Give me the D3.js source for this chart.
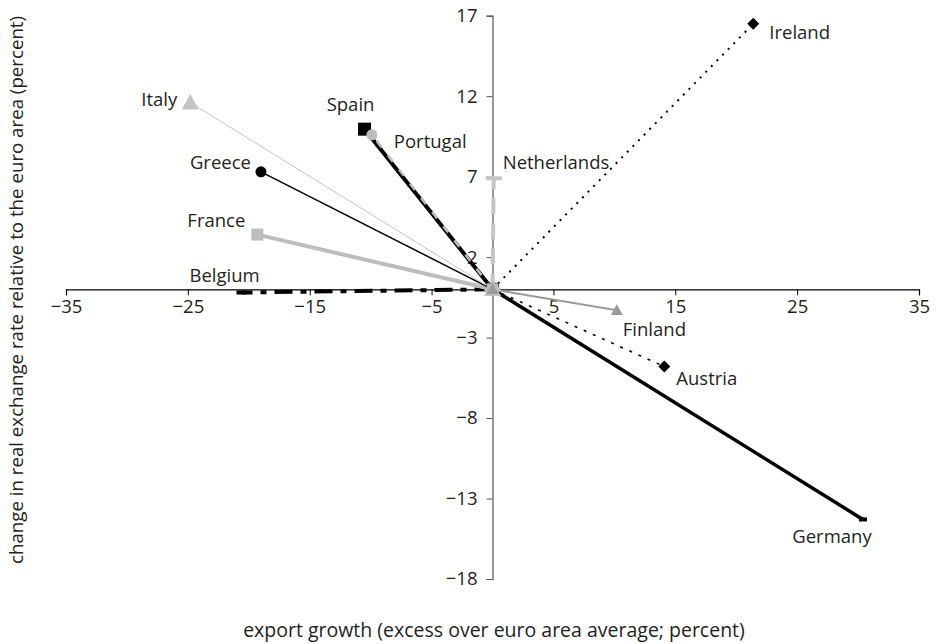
<!DOCTYPE html>
<html>
<head>
<meta charset="utf-8">
<script src="https://cdn.jsdelivr.net/npm/d3@7"></script>
<style>
  body { margin: 0; background: #fff; }
  svg { display: block; font-family: "Open Sans", "Noto Sans", sans-serif; }
</style>
</head>
<body>
<svg id="chart" width="937" height="644"></svg>
<script>
// ---- data ----
const countries   = ["Belgium", "France", "Greece", "Italy", "Spain", "Portugal", "Netherlands", "Finland", "Austria", "Germany", "Ireland"];
const exportGrowth = [-20.6, -19.3, -19.0, -24.8, -10.5, -9.9, 0.1, 10.2, 14.1, 30.4, 21.4];
const rerChange    = [-0.2, 3.4, 7.3, 11.6, 9.95, 9.6, 6.9, -1.3, -4.8, -14.3, 16.5];
const xTicks = [-35, -25, -15, -5, 5, 15, 25, 35];
const yTicks = [-18, -13, -8, -3, 2, 7, 12, 17];

// ---- styles (presentation only) ----
const styles = {
  Belgium:     {stroke: "#000",    width: 4,   dash: "18,8,6,8", marker: "dash",     mfill: "#000",    msize: 10},
  France:      {stroke: "#bdbdbd", width: 4,   dash: null,       marker: "square",   mfill: "#bdbdbd", msize: 12},
  Greece:      {stroke: "#000",    width: 1.5, dash: null,       marker: "circle",   mfill: "#000",    msize: 11},
  Italy:       {stroke: "#c4c4c4", width: 1,   dash: null,       marker: "triangle", mfill: "#c4c4c4", msize: 17},
  Spain:       {stroke: "#000",    width: 4,   dash: null,       marker: "square",   mfill: "#000",    msize: 13},
  Portugal:    {stroke: "#bdbdbd", width: 2.5, dash: "8,10",     marker: "circle",   mfill: "#bdbdbd", msize: 11},
  Netherlands: {stroke: "#c4c4c4", width: 4,   dash: "16,9",     marker: "hbar",     mfill: "#c4c4c4", msize: 16},
  Finland:     {stroke: "#9a9a9a", width: 2,   dash: null,       marker: "triangle", mfill: "#9a9a9a", msize: 12},
  Austria:     {stroke: "#000",    width: 1.6, dash: "3,7",      marker: "diamond",  mfill: "#000",    msize: 12},
  Germany:     {stroke: "#000",    width: 3.5, dash: null,       marker: "dash",     mfill: "#000",    msize: 8},
  Ireland:     {stroke: "#000",    width: 2,   dash: "2,6",      marker: "diamond",  mfill: "#000",    msize: 12}
};
const labelPos = {
  Belgium:     {dx: -52, dy: -11, anchor: "start"},
  France:      {dx: -12, dy: -8,  anchor: "end"},
  Greece:      {dx: -10, dy: -3,  anchor: "end"},
  Italy:       {dx: -13, dy: 3,   anchor: "end"},
  Spain:       {dx: -14, dy: -18, anchor: "middle"},
  Portugal:    {dx: 22,  dy: 13,  anchor: "start"},
  Netherlands: {dx: 9,   dy: -9,  anchor: "start"},
  Finland:     {dx: 6,   dy: 26,  anchor: "start"},
  Austria:     {dx: 12,  dy: 18,  anchor: "start"},
  Germany:     {dx: -31, dy: 24,  anchor: "middle"},
  Ireland:     {dx: 16,  dy: 15,  anchor: "start"}
};
const originOrder = ["Ireland", "Germany", "Austria", "Belgium", "Greece", "Spain", "Netherlands", "Portugal", "Italy", "France", "Finland"];

const svg = d3.select("#chart");
const x = d3.scaleLinear().domain([-35, 35]).range([66, 919]);
const y = d3.scaleLinear().domain([-18, 17]).range([579, 15.7]);
const fmt = v => (v < 0 ? "\u2212" + Math.abs(v) : String(v));
const textColor = "#231f20";
const fs = 18.5;

// axes
const xAxis = svg.append("g").attr("transform", `translate(0,${y(0)})`)
  .call(d3.axisBottom(x).tickValues(xTicks).tickFormat(fmt).tickSizeOuter(0).tickSize(6).tickPadding(5));
xAxis.select(".domain").attr("stroke", "#000").attr("stroke-width", 1.2);
xAxis.selectAll(".tick line").attr("stroke", "#000");
xAxis.selectAll(".tick text").attr("font-size", fs).attr("fill", textColor).attr("font-family", "Open Sans, sans-serif");

const yAxis = svg.append("g").attr("transform", `translate(${x(0)},0)`)
  .call(d3.axisLeft(y).tickValues(yTicks).tickFormat(fmt).tickSizeOuter(0).tickSize(6).tickPadding(9));
yAxis.select(".domain").attr("stroke", "#555").attr("stroke-width", 1.2);
yAxis.selectAll(".tick line").attr("stroke", "#555");
yAxis.selectAll(".tick text").attr("font-size", fs).attr("fill", textColor).attr("font-family", "Open Sans, sans-serif");

// series: each country from origin to its point
const series = countries.map((c, i) => ({
  name: c,
  pts: [[0, 0], [exportGrowth[i], rerChange[i]]]
}));
const line = d3.line().x(d => x(d[0])).y(d => y(d[1]));

const gSeries = svg.append("g");
series.forEach(s => {
  const st = styles[s.name];
  gSeries.append("path")
    .attr("d", line(s.pts))
    .attr("fill", "none")
    .attr("stroke", st.stroke)
    .attr("stroke-width", st.width)
    .attr("stroke-dasharray", st.dash);
});

function drawMarker(g, type, cx, cy, size, fill) {
  const h = size / 2;
  if (type === "square") {
    g.append("rect").attr("x", cx - h).attr("y", cy - h).attr("width", size).attr("height", size).attr("fill", fill);
  } else if (type === "circle") {
    g.append("circle").attr("cx", cx).attr("cy", cy).attr("r", h).attr("fill", fill);
  } else if (type === "triangle") {
    g.append("path").attr("d", `M${cx},${cy - h}L${cx + h},${cy + h * 0.8}L${cx - h},${cy + h * 0.8}Z`).attr("fill", fill);
  } else if (type === "diamond") {
    g.append("path").attr("d", `M${cx},${cy - h}L${cx + h},${cy}L${cx},${cy + h}L${cx - h},${cy}Z`).attr("fill", fill);
  } else if (type === "hbar" || type === "dash") {
    g.append("rect").attr("x", cx - h).attr("y", cy - 2).attr("width", size).attr("height", 4).attr("fill", fill);
  }
}

const gMarkers = svg.append("g");
// origin markers (gray ones end up on top)
originOrder.forEach(name => {
  const st = styles[name];
  drawMarker(gMarkers, st.marker, x(0), y(0), st.msize, st.mfill);
});
// end markers
series.forEach(s => {
  const st = styles[s.name];
  const p = s.pts[1];
  drawMarker(gMarkers, st.marker, x(p[0]), y(p[1]), st.msize, st.mfill);
});

// labels
const gLabels = svg.append("g");
series.forEach(s => {
  const lp = labelPos[s.name];
  const p = s.pts[1];
  gLabels.append("text")
    .attr("x", x(p[0]) + lp.dx)
    .attr("y", y(p[1]) + lp.dy)
    .attr("text-anchor", lp.anchor)
    .attr("font-size", fs)
    .attr("fill", textColor)
    .text(s.name);
});

// axis titles
svg.append("text")
  .attr("x", 494).attr("y", 637)
  .attr("text-anchor", "middle").attr("font-size", 19.5).attr("fill", textColor)
  .text("export growth (excess over euro area average; percent)");
svg.append("text")
  .attr("transform", "translate(23,290) rotate(-90)")
  .attr("text-anchor", "middle").attr("font-size", 18.7).attr("fill", textColor)
  .text("change in real exchange rate relative to the euro area (percent)");
</script>
</body>
</html>
